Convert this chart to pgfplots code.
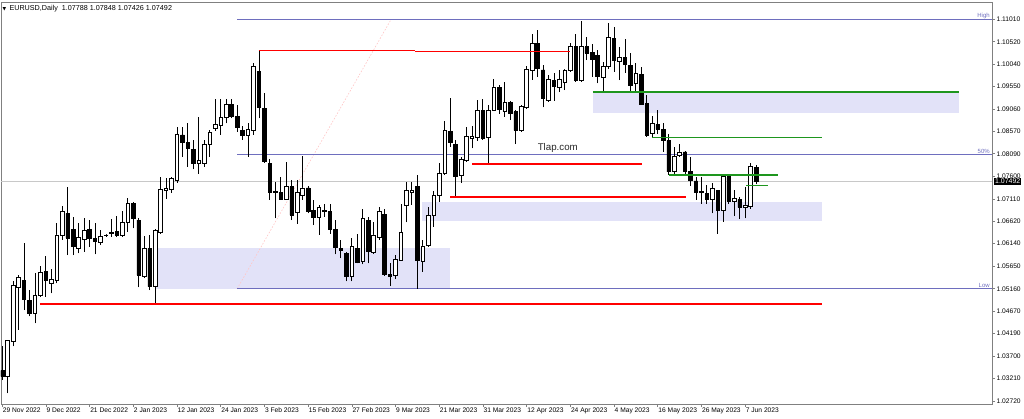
\documentclass[border=0pt]{standalone}
\usepackage{fontspec}
\setmainfont{Liberation Sans}
\newfontfamily\dejavu{DejaVu Sans}
\usepackage{pgfplots}
\pgfplotsset{compat=1.18}
\usepackage{pgfplotstable}

\pgfplotstableread{
x O H L C
0 1.0338 1.0392 1.0318 1.0327
1 1.0327 1.0406 1.0289 1.0405
2 1.0401 1.0532 1.0391 1.0524
3 1.0519 1.0545 1.0427 1.0540
4 1.0534 1.0615 1.0470 1.0492
5 1.0490 1.0513 1.0456 1.0463
6 1.0463 1.0550 1.0441 1.0502
7 1.0502 1.0565 1.0498 1.0551
8 1.0553 1.0587 1.0499 1.0534
9 1.0528 1.0558 1.0506 1.0537
10 1.0535 1.0658 1.0528 1.0633
11 1.0631 1.0696 1.0622 1.0683
12 1.0680 1.0736 1.0589 1.0626
13 1.0644 1.0672 1.0589 1.0607
14 1.0604 1.0658 1.0593 1.0627
15 1.0623 1.0669 1.0597 1.0642
16 1.0644 1.0665 1.0607 1.0625
17 1.0625 1.0658 1.0591 1.0618
18 1.0616 1.0644 1.0611 1.0629
19 1.0632 1.0636 1.0629 1.0633
20 1.0636 1.0667 1.0629 1.0638
21 1.0641 1.0674 1.0628 1.0631
22 1.0631 1.0685 1.0628 1.0661
23 1.0661 1.0713 1.0640 1.0701
24 1.0701 1.0705 1.0647 1.0669
25 1.0665 1.0669 1.0519 1.0546
26 1.0544 1.0631 1.0539 1.0604
27 1.0604 1.0632 1.0513 1.0521
28 1.0522 1.0645 1.0483 1.0642
29 1.0638 1.0759 1.0636 1.0732
30 1.0730 1.0756 1.0712 1.0733
31 1.0732 1.0759 1.0725 1.0756
32 1.0752 1.0868 1.0746 1.0851
33 1.0850 1.0868 1.0803 1.0833
34 1.0833 1.0875 1.0781 1.0821
35 1.0819 1.0840 1.0775 1.0788
36 1.0788 1.0889 1.0766 1.0794
37 1.0788 1.0839 1.0781 1.0830
38 1.0830 1.0860 1.0803 1.0856
39 1.0865 1.0928 1.0859 1.0873
40 1.0870 1.0928 1.0850 1.0888
41 1.0887 1.0927 1.0875 1.0916
42 1.0916 1.0928 1.0886 1.0891
43 1.0891 1.0914 1.0857 1.0866
44 1.0860 1.0869 1.0839 1.0850
45 1.0850 1.0875 1.0803 1.0862
46 1.0859 1.1005 1.0850 1.0998
47 1.0988 1.1034 1.0886 1.0910
48 1.0907 1.0940 1.0790 1.0792
49 1.0788 1.0797 1.0709 1.0725
50 1.0725 1.0748 1.0669 1.0728
51 1.0725 1.0759 1.0709 1.0711
52 1.0710 1.0792 1.0709 1.0738
53 1.0738 1.0752 1.0665 1.0676
54 1.0682 1.0752 1.0657 1.0725
55 1.0719 1.0805 1.0709 1.0735
56 1.0735 1.0739 1.0680 1.0685
57 1.0687 1.0709 1.0654 1.0671
58 1.0672 1.0698 1.0633 1.0693
59 1.0687 1.0701 1.0672 1.0683
60 1.0683 1.0701 1.0636 1.0645
61 1.0644 1.0665 1.0591 1.0606
62 1.0604 1.0623 1.0582 1.0599
63 1.0593 1.0597 1.0532 1.0544
64 1.0542 1.0626 1.0532 1.0607
65 1.0604 1.0636 1.0571 1.0573
66 1.0575 1.0690 1.0569 1.0669
67 1.0664 1.0672 1.0571 1.0597
68 1.0594 1.0662 1.0592 1.0633
69 1.0628 1.0694 1.0622 1.0683
70 1.0678 1.0690 1.0544 1.0548
71 1.0547 1.0571 1.0522 1.0542
72 1.0545 1.0589 1.0537 1.0580
73 1.0578 1.0701 1.0577 1.0638
74 1.0698 1.0748 1.0660 1.0729
75 1.0726 1.0748 1.0698 1.0730
76 1.0738 1.0763 1.0516 1.0577
77 1.0575 1.0622 1.0553 1.0609
78 1.0611 1.0694 1.0607 1.0676
79 1.0676 1.0729 1.0651 1.0719
80 1.0719 1.0788 1.0705 1.0766
81 1.0766 1.0881 1.0763 1.0859
82 1.0857 1.0931 1.0824 1.0833
83 1.0830 1.0839 1.0715 1.0759
84 1.0762 1.0803 1.0746 1.0797
85 1.0795 1.0868 1.0792 1.0846
86 1.0842 1.0869 1.0821 1.0846
87 1.0844 1.0925 1.0837 1.0904
88 1.0904 1.0927 1.0840 1.0842
89 1.0844 1.0915 1.0787 1.0904
90 1.0904 1.0972 1.0902 1.0954
91 1.0953 1.0958 1.0896 1.0905
92 1.0900 1.0965 1.0889 1.0920
93 1.0920 1.0923 1.0882 1.0896
94 1.0900 1.0904 1.0830 1.0860
95 1.0860 1.0915 1.0857 1.0912
96 1.0910 1.0999 1.0907 1.0992
97 1.0991 1.1070 1.0970 1.1048
98 1.1048 1.1077 1.0976 1.0994
99 1.0991 1.1001 1.0910 1.0929
100 1.0925 1.0980 1.0922 1.0970
101 1.0969 1.0985 1.0924 1.0956
102 1.0953 1.0990 1.0943 1.0970
103 1.0965 1.0992 1.0947 1.0991
104 1.0989 1.1050 1.0987 1.1042
105 1.1042 1.1070 1.0965 1.0969
106 1.0969 1.1097 1.0965 1.1042
107 1.1041 1.1063 1.1012 1.1027
108 1.1028 1.1048 1.0976 1.1014
109 1.1023 1.1034 1.0962 1.0976
110 1.0975 1.1009 1.0943 1.0999
111 1.0998 1.1092 1.0994 1.1061
112 1.1059 1.1084 1.0987 1.1012
113 1.1010 1.1041 1.0969 1.1019
114 1.1019 1.1059 1.0985 1.1003
115 1.1001 1.1027 1.0943 1.0958
116 1.0962 1.1005 1.0943 1.0983
117 1.0982 1.0998 1.0915 1.0917
118 1.0918 1.0936 1.0846 1.0850
119 1.0853 1.0891 1.0846 1.0875
120 1.0873 1.0905 1.0853 1.0862
121 1.0862 1.0875 1.0813 1.0839
122 1.0837 1.0853 1.0763 1.0770
123 1.0770 1.0824 1.0765 1.0804
124 1.0806 1.0830 1.0803 1.0813
125 1.0813 1.0815 1.0763 1.0770
126 1.0770 1.0803 1.0739 1.0752
127 1.0750 1.0759 1.0709 1.0725
128 1.0727 1.0758 1.0701 1.0725
129 1.0722 1.0741 1.0701 1.0709
130 1.0709 1.0746 1.0680 1.0734
131 1.0729 1.0730 1.0635 1.0687
132 1.0687 1.0766 1.0662 1.0761
133 1.0759 1.0763 1.0701 1.0705
134 1.0705 1.0730 1.0674 1.0712
135 1.0710 1.0716 1.0667 1.0693
136 1.0693 1.0738 1.0669 1.0698
137 1.0694 1.0788 1.0690 1.0781
138 1.07788 1.07848 1.07426 1.07492
}\candles

\definecolor{fibblue}{RGB}{110,110,190}
\definecolor{zone}{RGB}{226,226,248}
\definecolor{lgreen}{RGB}{30,150,30}
\definecolor{bidgray}{RGB}{200,200,200}
\definecolor{framegray}{RGB}{128,128,128}

\pgfplotsset{
  base/.style={
    scale only axis,
    width=743.25pt, height=301.5pt,
    xmin=-0.22, xmax=181.18,
    ymin=1.02661, ymax=1.11384,
    enlargelimits=false,
    at={(0.75pt,10.5pt)}, anchor=south west,
  },
}

\begin{document}
\begin{tikzpicture}
\useasboundingbox (0,0) rectangle (768pt,313.5pt);

% ---------- background axis: frame, ticks, zones, fib, wicks ----------
\begin{axis}[base,
  axis line style={framegray, line width=0.6pt},
  tick align=outside,
  major tick length=2.25pt,
  tick style={framegray, line width=0.5pt},
  xtick pos=left, ytick pos=right,
  yticklabel pos=right,
  xtick={0,8,...,136},
  xticklabels={29 Nov 2022,9 Dec 2022,21 Dec 2022,2 Jan 2023,12 Jan 2023,24 Jan 2023,3 Feb 2023,15 Feb 2023,27 Feb 2023,9 Mar 2023,21 Mar 2023,31 Mar 2023,12 Apr 2023,24 Apr 2023,4 May 2023,16 May 2023,26 May 2023,7 Jun 2023},
  xticklabel style={font=\fontsize{5}{6}\selectfont, anchor=north west, inner sep=0pt, xshift=0.3pt, yshift=-0.3pt},
  ytick={1.11010,1.10520,1.10040,1.09550,1.09060,1.08570,1.08090,1.07600,1.07110,1.06620,1.06140,1.05650,1.05160,1.04670,1.04190,1.03700,1.03210,1.02720},
  yticklabels={1.11010,1.10520,1.10040,1.09550,1.09060,1.08570,1.08090,1.07600,1.07110,1.06620,1.06140,1.05650,1.05160,1.04670,1.04190,1.03700,1.03210,1.02720},
  yticklabel style={font=\fontsize{5}{6}\selectfont, anchor=west, inner sep=0pt, xshift=1pt},
]
% zones
\addplot[fill=zone, draw=none] coordinates {(108.1,1.0898) (175.1,1.0898) (175.1,1.0943) (108.1,1.0943)};
\addplot[fill=zone, draw=none] coordinates {(76.8,1.0664) (150.1,1.0664) (150.1,1.0704) (76.8,1.0704)};
\addplot[fill=zone, draw=none] coordinates {(28.0,1.0516) (82.0,1.0516) (82.0,1.0604) (28.0,1.0604)};
% fibonacci
\addplot[red!22, dash pattern=on 1.2pt off 1.2pt, line width=0.45pt] coordinates {(43,1.0516) (71.2,1.1101)};
\addplot[fibblue, line width=0.75pt] coordinates {(43,1.11010) (181.18,1.11010)};
\addplot[fibblue, line width=0.75pt] coordinates {(43,1.08085) (181.18,1.08085)};
\addplot[fibblue, line width=0.75pt] coordinates {(43,1.05160) (181.18,1.05160)};
% bid line
\addplot[bidgray, line width=0.6pt] coordinates {(-0.22,1.07492) (181.18,1.07492)};
% wicks
\addplot[draw=none, mark=none, error bars/.cd, y dir=plus, y explicit, error mark=none,
  error bar style={draw=black, solid, line width=0.7pt}]
  table[x=x, y=L, y error expr=\thisrow{H}-\thisrow{L}] {\candles};
\end{axis}

% ---------- candle bodies ----------
\begin{axis}[base, hide axis, ybar stacked, bar width=2.7pt]
\addplot[draw=none, fill=none] table[x=x, y expr={min(\thisrow{O},\thisrow{C})}] {\candles};
\addplot[draw=black, fill=white, line width=0.6pt] table[x=x, y expr={max(\thisrow{C}-\thisrow{O},0)}] {\candles};
\addplot[draw=black, fill=black, line width=0.6pt] table[x=x, y expr={max(\thisrow{O}-\thisrow{C},0)}] {\candles};
\end{axis}

% ---------- foreground lines and texts ----------
\begin{axis}[base, hide axis, clip=false]
\addplot[red, line width=1pt] coordinates {(47.0,1.10327) (75.6,1.10327)};
\addplot[red, line width=1pt] coordinates {(75.6,1.10312) (103.9,1.10312)};
\addplot[red, line width=1pt] coordinates {(86.0,1.0787) (117.1,1.0787)};
\addplot[red, line width=1pt] coordinates {(82.0,1.0715) (125.2,1.0715)};
\addplot[red, line width=1pt] coordinates {(6.9,1.0483) (150.1,1.0483)};
\addplot[lgreen, line width=1pt] coordinates {(108.1,1.0943) (175.1,1.0943)};
\addplot[lgreen, line width=1.1pt] coordinates {(118.9,1.08442) (150.1,1.08442)};
\addplot[lgreen, line width=1pt] coordinates {(122.0,1.0763) (142.0,1.0763)};
\addplot[lgreen, line width=1pt] coordinates {(136.2,1.0740) (140.2,1.0740)};
\node[font=\fontsize{7.3}{8}\selectfont, text=black!85] at (axis cs:101.7,1.08213) {Tlap.com};
\node[font=\fontsize{4.5}{5}\selectfont, text=fibblue, anchor=south east, inner sep=0.4pt] at (axis cs:180.9,1.11010) {High};
\node[font=\fontsize{4.5}{5}\selectfont, text=fibblue, anchor=south east, inner sep=0.4pt] at (axis cs:180.9,1.08085) {50\%};
\node[font=\fontsize{4.5}{5}\selectfont, text=fibblue, anchor=south east, inner sep=0.4pt] at (axis cs:180.9,1.05160) {Low};
\node[anchor=west, fill=black, text=white, inner sep=0.8pt, font=\fontsize{5.2}{6}\selectfont] at (axis cs:181.18,1.07492) [xshift=1.4pt] {1.07492};
\node[anchor=north west, inner sep=0pt, font=\fontsize{5.4}{6}\selectfont] at (rel axis cs:0,1) [xshift=1pt, yshift=-2.6pt] {{\dejavu\fontsize{3.5}{4}\selectfont ▼}\hspace{2.5pt}EURUSD,Daily\hspace{3pt}1.07788 1.07848 1.07426 1.07492};
\end{axis}
\end{tikzpicture}
\end{document}
